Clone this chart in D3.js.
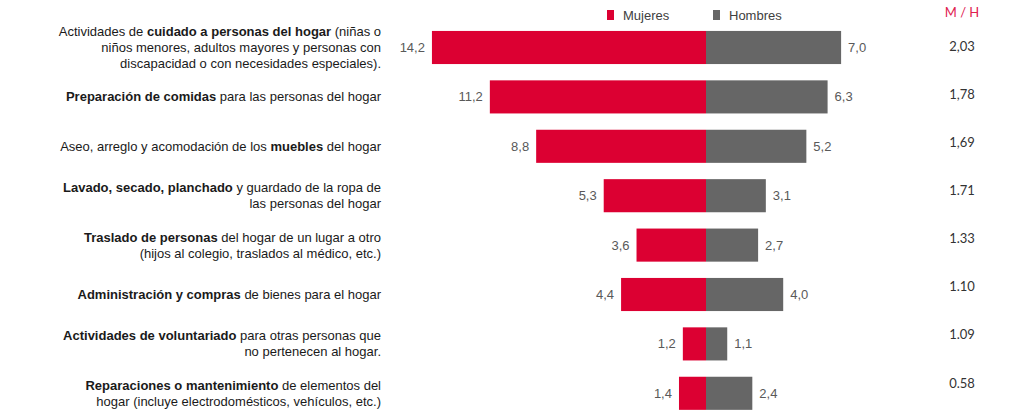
<!DOCTYPE html>
<html><head><meta charset="utf-8">
<script src="https://cdn.jsdelivr.net/npm/d3@7"></script>
<style>body{margin:0;background:#fff;}svg{display:block;}</style>
</head><body>
<svg id="c" width="1021" height="412"></svg>
<script>
// Category labels: each line is a list of [text, bold]
const categories = [
  [[["Actividades de ",0],["cuidado a personas del hogar",1],[" (niñas o",0]],
   [["niños menores, adultos mayores y personas con",0]],
   [["discapacidad o con necesidades especiales).",0]]],
  [[["Preparación de comidas",1],[" para las personas del hogar",0]]],
  [[["Aseo, arreglo y acomodación de los ",0],["muebles",1],[" del hogar",0]]],
  [[["Lavado, secado, planchado",1],[" y guardado de la ropa de",0]],
   [["las personas del hogar",0]]],
  [[["Traslado de personas",1],[" del hogar de un lugar a otro",0]],
   [["(hijos al colegio, traslados al médico, etc.)",0]]],
  [[["Administración y compras",1],[" de bienes para el hogar",0]]],
  [[["Actividades de voluntariado",1],[" para otras personas que",0]],
   [["no pertenecen al hogar.",0]]],
  [[["Reparaciones o mantenimiento",1],[" de elementos del",0]],
   [["hogar (incluye electrodomésticos, vehículos, etc.)",0]]]
];
const mujeres = [14.2, 11.2, 8.8, 5.3, 3.6, 4.4, 1.2, 1.4];
const hombres = [7.0, 6.3, 5.2, 3.1, 2.7, 4.0, 1.1, 2.4];
const ratioLabels = ["2,03","1,78","1,69","1.71","1.33","1.10","1.09","0.58"];
const seriesNames = ["Mujeres","Hombres"];
const ratioTitle = "M / H";

const RED = "#dc0032", GRAY = "#666666";
const svg = d3.select("#c");
const idx = d3.range(categories.length);

const y = d3.scaleBand().domain(idx).range([22.8, 418]).paddingInner(0.33).paddingOuter(0.165);
const cx = 706, pxPerUnit = 19.3;
const xL = d3.scaleLinear().domain([0, 15]).range([cx, cx - 15*pxPerUnit]);
const xR = d3.scaleLinear().domain([0, 15]).range([cx, cx + 15*pxPerUnit]);
const yRatio = d3.scalePoint().domain(idx).range([46, 383]);

const fmt = v => d3.format(".1f")(v).replace(".", ",");

// Bars
svg.append("g").selectAll("rect").data(mujeres).join("rect")
  .attr("x", d => xL(d)).attr("y", (d,i) => y(i))
  .attr("width", d => cx - xL(d)).attr("height", y.bandwidth())
  .attr("fill", RED);
svg.append("g").selectAll("rect").data(hombres).join("rect")
  .attr("x", cx).attr("y", (d,i) => y(i))
  .attr("width", d => xR(d) - cx).attr("height", y.bandwidth())
  .attr("fill", GRAY);

const numFont = "'Liberation Sans', Arial, sans-serif";
// Value labels
svg.append("g").selectAll("text").data(mujeres).join("text")
  .attr("x", d => xL(d) - 7).attr("y", (d,i) => y(i) + y.bandwidth()/2)
  .attr("dy", "0.35em").attr("text-anchor", "end")
  .attr("font-family", numFont).attr("font-size", 13).attr("fill", "#595959")
  .text(fmt);
svg.append("g").selectAll("text").data(hombres).join("text")
  .attr("x", d => xR(d) + 7).attr("y", (d,i) => y(i) + y.bandwidth()/2)
  .attr("dy", "0.35em").attr("text-anchor", "start")
  .attr("font-family", numFont).attr("font-size", 13).attr("fill", "#595959")
  .text(fmt);

// Category labels
const lineH = 16;
const lab = svg.append("g").attr("font-family", numFont).attr("font-size", 13).attr("fill", "#1a1a1a");
categories.forEach((lines, i) => {
  const c = y(i) + y.bandwidth()/2;
  const t = lab.append("text").attr("text-anchor", "end");
  lines.forEach((segs, j) => {
    const ly = c + (j - (lines.length-1)/2) * lineH;
    segs.forEach((s, k) => {
      const ts = t.append("tspan").text(s[0]).attr("font-weight", s[1] ? "bold" : "normal");
      if (k === 0) ts.attr("x", 381).attr("y", ly).attr("dy", "0.35em");
    });
  });
});

// Legend
const legend = svg.append("g").attr("font-family", numFont).attr("font-size", 13).attr("fill", "#404040");
const legX = [607, 713];
seriesNames.forEach((n, i) => {
  legend.append("rect").attr("x", legX[i]).attr("y", 10).attr("width", 7).attr("height", 10)
    .attr("fill", i === 0 ? RED : GRAY);
  legend.append("text").attr("x", legX[i] + 16).attr("y", 15).attr("dy", "0.35em").text(n);
});

// Ratio column
const ratioFont = "Lato, 'Open Sans', sans-serif";
svg.append("text").attr("x", 962).attr("y", 12).attr("dy", "0.35em").attr("text-anchor", "middle")
  .attr("font-family", ratioFont).attr("font-size", 13).attr("fill", "#e0204f").text(ratioTitle);
svg.append("g").selectAll("text").data(ratioLabels).join("text")
  .attr("x", 962).attr("y", (d,i) => yRatio(i)).attr("dy", "0.35em").attr("text-anchor", "middle")
  .attr("font-family", ratioFont).attr("font-size", 13).attr("fill", "#333").text(d => d);
</script>
</body></html>
